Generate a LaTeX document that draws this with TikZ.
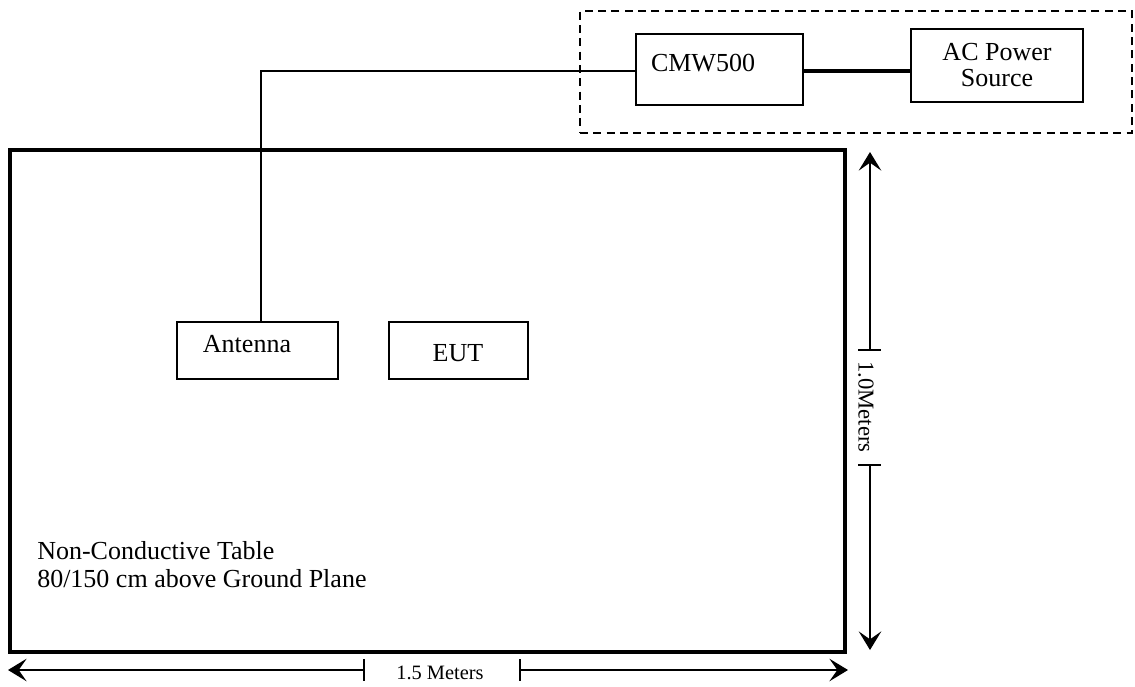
\documentclass[tikz,border=0pt]{standalone}
\usepackage{fontspec}
\setmainfont{Liberation Serif}
\usetikzlibrary{arrows.meta}
\begin{document}
\begin{tikzpicture}[x=0.75pt,y=-0.75pt,
  box/.style={draw,line width=1.1pt,inner sep=0pt,outer sep=0pt},
  txt/.style={inner sep=0pt,font=\fontsize{19.5}{23}\selectfont},
  dimtxt/.style={inner sep=0pt,font=\fontsize{15.3}{18}\selectfont},
  wire/.style={line width=1pt},
  dimline/.style={line width=1pt,{Stealth[length=14pt,width=17pt,inset=6pt]}-{Stealth[length=14pt,width=17pt,inset=6pt]}},
  tick/.style={line width=1pt}]
\useasboundingbox (0,0) rectangle (1135,686);
% table
\node[draw,line width=2.3pt,minimum width=835*0.75pt,minimum height=502*0.75pt,inner sep=0pt] (table) at (427.5,401) {};
% dashed group
\node[draw,dashed,dash pattern=on 6pt off 4pt,line width=1pt,minimum width=552*0.75pt,minimum height=122*0.75pt,inner sep=0pt] (grp) at (856,72) {};
% boxes
\node[box,minimum width=167*0.75pt,minimum height=71*0.75pt] (cmw) at (719.5,69.5) {};
\node[box,minimum width=172*0.75pt,minimum height=73*0.75pt] (ac) at (997,65.5) {};
\node[box,minimum width=161*0.75pt,minimum height=57*0.75pt] (ant) at (257.5,350.5) {};
\node[box,minimum width=139*0.75pt,minimum height=57*0.75pt] (eut) at (458.5,350.5) {};
% texts
\node[txt] (cmwt) at (703,63) {CMW500};
\node[txt,align=center] (act) at (997,65) {AC Power\\[-4pt]Source};
\node[txt] (antt) at (247,344) {Antenna};
\node[txt] (eutt) at (458,353) {EUT};
\node[txt,align=left,anchor=north west] (tablet) at (37,541) {Non-Conductive Table\\[-2pt]80/150 cm above Ground Plane};
% connectors
\coordinate (bend) at (261,71);
\coordinate (cmwin) at (636,71);
\coordinate (cmwout) at (803,71);
\coordinate (acin) at (911,71);
\draw[wire] (cmwin) -- (bend) -- (bend |- ant.north);
\draw[line width=2.7pt] (cmwout) -- (acin);
% vertical dimension
\coordinate (vt) at (870,152);
\coordinate (vb) at (870,650);
\coordinate (vt1) at (870,350);
\coordinate (vt2) at (870,465);
\draw[dimline] (vt) -- (vb);
\fill[white] (860,351) rectangle (880,464);
\draw[tick] ([xshift=-9pt]vt1) -- ([xshift=8pt]vt1);
\draw[tick] ([xshift=-9pt]vt2) -- ([xshift=8pt]vt2);
\node[dimtxt,rotate=-90,font=\fontsize{17}{20}\selectfont] (vlab) at (866,407) {1.0Meters};
% horizontal dimension
\coordinate (hl) at (8,670);
\coordinate (hr) at (848,670);
\coordinate (ht1) at (364,670);
\coordinate (ht2) at (520,670);
\draw[dimline] (hl) -- (hr);
\fill[white] (365,660) rectangle (519,684);
\draw[tick] ([yshift=8pt]ht1) -- ([yshift=-8pt]ht1);
\draw[tick] ([yshift=8pt]ht2) -- ([yshift=-8pt]ht2);
\node[dimtxt] (hlab) at (440,673) {1.5 Meters};
\end{tikzpicture}
\end{document}
